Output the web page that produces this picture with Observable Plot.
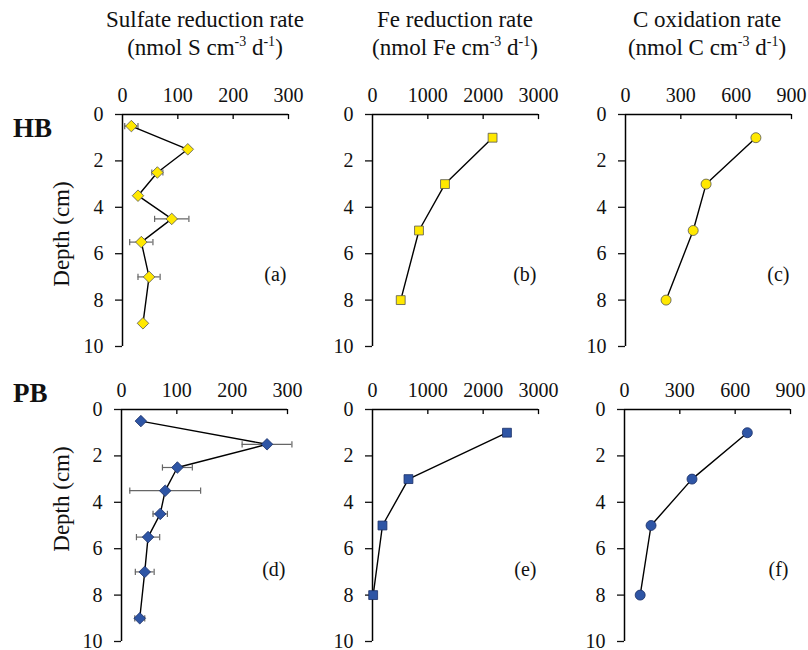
<!DOCTYPE html>
<html><head><meta charset="utf-8">
<script src="https://cdn.jsdelivr.net/npm/d3@7"></script>
<script src="https://cdn.jsdelivr.net/npm/@observablehq/plot@0.6"></script>
<style>
body{margin:0;background:#fff;}
#wrap{position:relative;width:808px;height:650px;font-family:"Liberation Serif","Times New Roman",serif;color:#111;}
.t{position:absolute;font-size:23px;text-align:center;line-height:28px;white-space:nowrap;}
.row{position:absolute;font-size:27px;font-weight:bold;}
.dep{position:absolute;font-size:23px;transform:rotate(-90deg);transform-origin:center;white-space:nowrap;line-height:26px;}
.p{position:absolute;}
sup{font-size:14px;vertical-align:9px;line-height:0;}
svg, svg text, svg g{font-family:"Liberation Serif","Times New Roman",serif !important;}
</style></head><body>
<div id="wrap">
  <div class="t" style="left:55px;top:6px;width:300px;">Sulfate reduction rate<br>(nmol S cm<sup>-3</sup> d<sup>-1</sup>)</div>
  <div class="t" style="left:305px;top:6px;width:300px;">Fe reduction rate<br>(nmol Fe cm<sup>-3</sup> d<sup>-1</sup>)</div>
  <div class="t" style="left:557px;top:6px;width:300px;">C oxidation rate<br>(nmol C cm<sup>-3</sup> d<sup>-1</sup>)</div>
  <div class="row" style="left:13px;top:113px;">HB</div>
  <div class="row" style="left:13px;top:378px;">PB</div>
  <div class="dep" style="left:2px;top:221px;width:120px;text-align:center;">Depth (cm)</div>
  <div class="dep" style="left:2px;top:486px;width:120px;text-align:center;">Depth (cm)</div>
</div>
<script>
// ---- data ----
const srDepth = [0.5, 1.5, 2.5, 3.5, 4.5, 5.5, 7, 9];
const srHB = [16, 118, 63, 28, 89, 34, 48, 37];
const srHBerr = [12, 0, 10, 0, 31, 21, 20, 0];
const srPB = [35, 263, 101, 79, 70, 48, 42, 33];
const srPBerr = [0, 45, 27, 64, 13, 21, 17, 9];

const feDepth = [1, 3, 5, 8];
const feHB = [2170, 1310, 840, 510];
const fePB = [2430, 650, 180, 12];

const cDepth = [1, 3, 5, 8];
const cHB = [707, 437, 367, 220];
const cPB = [666, 366, 144, 85];

const srTicks = [0, 100, 200, 300];
const feTicks = [0, 1000, 2000, 3000];
const cTicks = [0, 300, 600, 900];
const depthTicks = [0, 2, 4, 6, 8, 10];
const panelLabels = ["(a)", "(b)", "(c)", "(d)", "(e)", "(f)"];

const YELLOW = "#ffe800", BLUE = "#2e55a5";
const capSymbol = {draw(ctx, size){ const h = Math.sqrt(size) / 2; ctx.moveTo(0, -h); ctx.lineTo(0, h); }};

const ML = 45, MT = 45, MR = 15, MB = 8, PW = 166, PH = 232;
const FONT = '"Liberation Serif","Times New Roman",serif';

function panel(opts){
  const {depth, vals, err, ticks, symbol, fill, stroke, label, left, top} = opts;
  const data = depth.map((d, i) => ({d, v: vals[i], e: err ? err[i] : 0}));
  const errData = data.filter(r => r.e > 0);
  const marks = [
    Plot.ruleY([0], {stroke: "#000", strokeWidth: 1.5}),
    Plot.ruleX([0], {stroke: "#000", strokeWidth: 1.5}),
    Plot.ruleX(ticks.slice(1), {x: t => t, y1: 0, y2: 0.22, stroke: "#000", strokeWidth: 1.3}),
    Plot.axisX({anchor: "top", ticks, tickSize: 0, tickPadding: 13, fontSize: 20, fontFamily: FONT, label: null, tickFormat: d => String(d)}),
    Plot.axisY({anchor: "left", ticks: depthTicks, tickSize: 7, tickPadding: 12, fontSize: 20, fontFamily: FONT, label: null, strokeWidth: 1.3}),
  ];
  if (errData.length) {
    marks.push(Plot.ruleY(errData, {y: "d", x1: r => r.v - r.e, x2: r => r.v + r.e, stroke: "#666", strokeWidth: 1.2}));
    marks.push(Plot.dot(errData, {y: "d", x: r => r.v - r.e, symbol: capSymbol, r: 3.5, stroke: "#666", strokeWidth: 1.2, fill: "none"}));
    marks.push(Plot.dot(errData, {y: "d", x: r => r.v + r.e, symbol: capSymbol, r: 3.5, stroke: "#666", strokeWidth: 1.2, fill: "none"}));
  }
  marks.push(Plot.line(data, {x: "v", y: "d", stroke: "#000", strokeWidth: 1.4}));
  marks.push(Plot.dot(data, {x: "v", y: "d", symbol, r: symbol === "diamond2" ? 5.2 : 5, fill, stroke, strokeWidth: 0.8}));
  marks.push(Plot.text([label], {frameAnchor: "right", textAnchor: "end", dx: -2, dy: 44, fontSize: 20, fontFamily: FONT, fill: "#111"}));
  const svg = Plot.plot({
    width: ML + PW + MR, height: MT + PH + MB,
    marginLeft: ML, marginTop: MT, marginRight: MR, marginBottom: MB,
    style: 'font-family:"Liberation Serif","Times New Roman",serif;font-size:20px;color:#111;background:transparent;overflow:visible;',
    x: {domain: [ticks[0], ticks[ticks.length - 1]], axis: null},
    y: {domain: [0, 10], reverse: true, axis: null},
    marks
  });
  svg.classList.add("p");
  svg.style.left = (left - ML) + "px";
  svg.style.top = (top - MT) + "px";
  svg.style.position = "absolute";
  document.getElementById("wrap").appendChild(svg);
}

const T1 = 114, T2 = 409;
panel({depth: srDepth, vals: srHB, err: srHBerr, ticks: srTicks, symbol: "diamond2", fill: YELLOW, stroke: "#555", label: panelLabels[0], left: 122, top: T1});
panel({depth: feDepth, vals: feHB, ticks: feTicks, symbol: "square", fill: YELLOW, stroke: "#555", label: panelLabels[1], left: 372, top: T1});
panel({depth: cDepth, vals: cHB, ticks: cTicks, symbol: "circle", fill: YELLOW, stroke: "#555", label: panelLabels[2], left: 625, top: T1});
panel({depth: srDepth, vals: srPB, err: srPBerr, ticks: srTicks, symbol: "diamond2", fill: BLUE, stroke: "#1a2f66", label: panelLabels[3], left: 121, top: T2});
panel({depth: feDepth, vals: fePB, ticks: feTicks, symbol: "square", fill: BLUE, stroke: "#1a2f66", label: panelLabels[4], left: 372, top: T2});
panel({depth: cDepth, vals: cPB, ticks: cTicks, symbol: "circle", fill: BLUE, stroke: "#1a2f66", label: panelLabels[5], left: 624, top: T2});
</script>
</body></html>
